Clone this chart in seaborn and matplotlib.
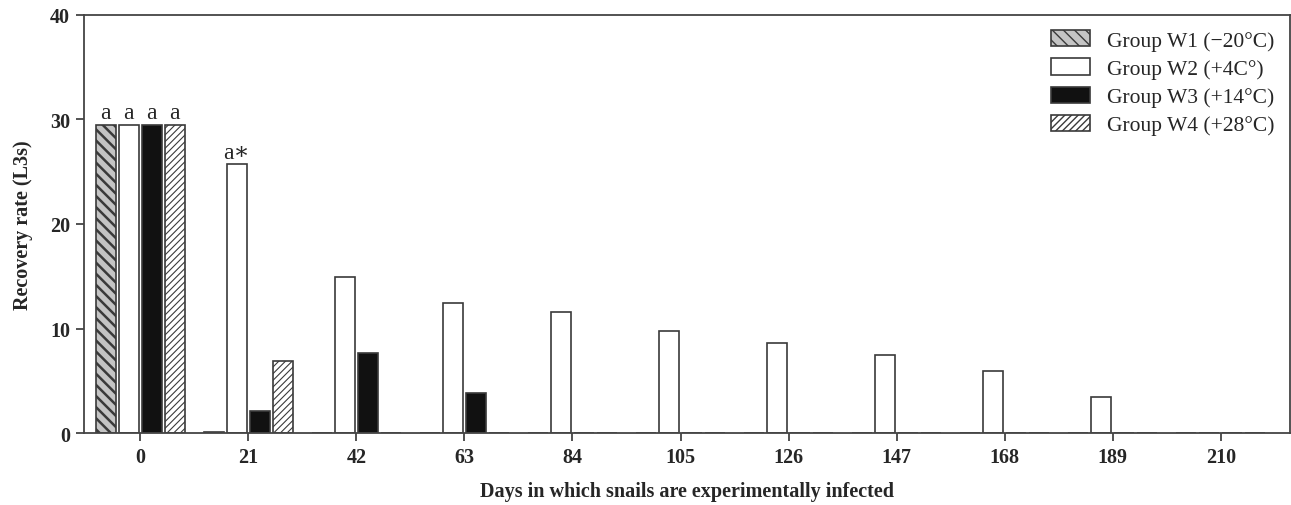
import pandas as pd
import matplotlib
matplotlib.use("Agg")
import matplotlib.pyplot as plt
from matplotlib.patches import Patch
import seaborn as sns

# Data
days = [0, 21, 42, 63, 84, 105, 126, 147, 168, 189, 210]
groups = ["Group W1 (\u221220\u00b0C)", "Group W2 (+4C\u00b0)",
          "Group W3 (+14\u00b0C)", "Group W4 (+28\u00b0C)"]
w1 = [29.5, 0.1, 0, 0, 0, 0, 0, 0, 0, 0, 0]
w2 = [29.5, 25.7, 14.9, 12.4, 11.6, 9.8, 8.6, 7.5, 5.9, 3.4, 0]
w3 = [29.5, 2.1, 7.7, 3.8, 0, 0, 0, 0, 0, 0, 0]
w4 = [29.5, 6.9, 0, 0, 0, 0, 0, 0, 0, 0, 0]
letters = {(0, 0): "a", (1, 0): "a", (2, 0): "a", (3, 0): "a", (1, 1): "a\u2217"}

rows = []
for g, vals in zip(groups, [w1, w2, w3, w4]):
    for d, v in zip(days, vals):
        rows.append({"day": str(d), "group": g, "rate": v})
df = pd.DataFrame(rows)

sns.set_style("ticks")
plt.rcParams["font.family"] = ["Liberation Serif", "DejaVu Serif"]
plt.rcParams["hatch.linewidth"] = 1.0

styles = [
    dict(facecolor="#c4c4c4", hatch="\\\\\\", hlw=1.8, hc="#111111"),
    dict(facecolor="white", hatch="", hlw=1.0, hc=None),
    dict(facecolor="#111111", hatch="", hlw=1.0, hc=None),
    dict(facecolor="white", hatch="/////", hlw=0.8, hc="#444444"),
]
edge = "#3a3a3a"

fig = plt.figure(figsize=(12.91, 5.06), dpi=100)
ax = fig.add_axes([84 / 1291, 1 - 434 / 506, 1206 / 1291, 418 / 506])

sns.barplot(data=df, x="day", y="rate", hue="group", hue_order=groups,
            width=0.85, gap=0.12, errorbar=None, legend=False, ax=ax)

for gi, cont in enumerate(ax.containers):
    st = styles[gi]
    for bar in cont:
        bar.set_facecolor(st["facecolor"])
        bar.set_edgecolor(edge)
        bar.set_linewidth(1.2)
        bar.set_hatch(st["hatch"])
        if hasattr(bar, "set_hatch_linewidth"):
            bar.set_hatch_linewidth(st["hlw"])
        if st["hc"] and hasattr(bar, "set_hatchcolor"):
            bar.set_hatchcolor(st["hc"])

for (gi, di), txt in letters.items():
    bar = ax.containers[gi][di]
    ax.text(bar.get_x() + bar.get_width() / 2, bar.get_height() + 0.15, txt,
            ha="center", va="bottom", fontsize=17)

ax.set_ylim(0, 40)
ax.set_xlim(-0.52, 10.64)
ax.set_yticks([0, 10, 20, 30, 40])
for side in ["top", "right", "left", "bottom"]:
    ax.spines[side].set_visible(True)
    ax.spines[side].set_color("#444444")
    ax.spines[side].set_linewidth(1.3)
ax.tick_params(axis="both", length=6, width=1.3, color="#444444",
               labelsize=14.5, pad=4)
for lab in ax.get_xticklabels() + ax.get_yticklabels():
    lab.set_fontweight("bold")

ax.set_xlabel("Days in which snails are experimentally infected",
              fontsize=14.5, fontweight="bold", labelpad=10)
ax.set_ylabel("Recovery rate (L3s)", fontsize=14.5, fontweight="bold",
              labelpad=12)

handles = []
for g, st in zip(groups, styles):
    p = Patch(facecolor=st["facecolor"], edgecolor=edge, hatch=st["hatch"],
              linewidth=1.2, label=g)
    handles.append(p)
ax.legend(handles=handles, loc="upper right", frameon=False, fontsize=15.5,
          handlelength=1.8, handleheight=0.8, handletextpad=0.8,
          labelspacing=0.35, borderaxespad=0.2,
          bbox_to_anchor=(0.998, 0.995))

fig.savefig("out.png", dpi=100)
